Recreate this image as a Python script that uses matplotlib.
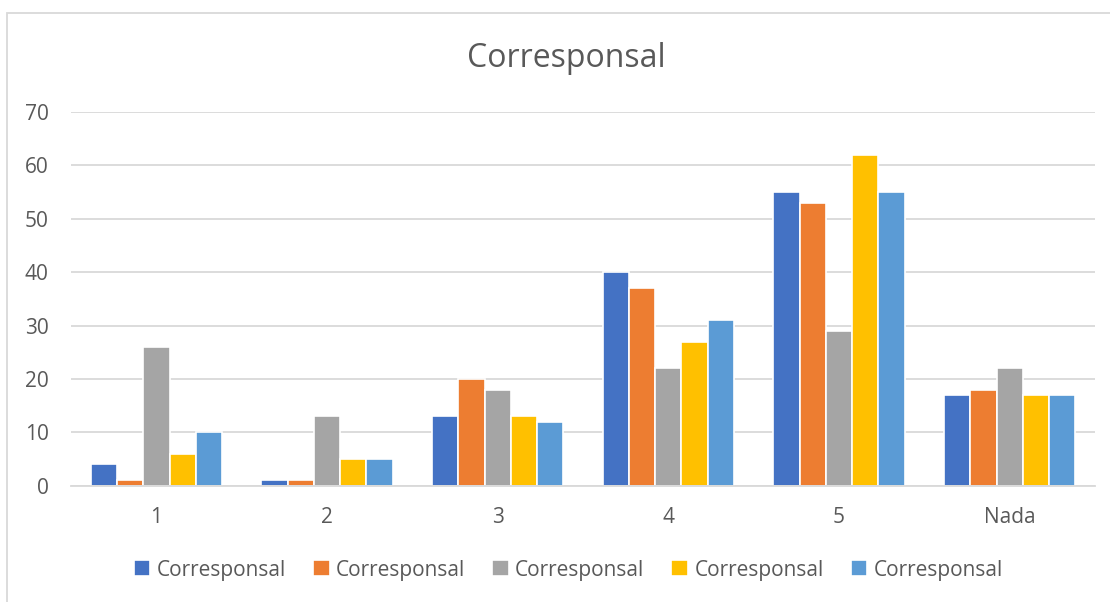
import matplotlib.pyplot as plt
import matplotlib.patches as patches
import numpy as np

categories = ["1", "2", "3", "4", "5", "Nada"]
serie_1 = [4, 1, 13, 40, 55, 17]
serie_2 = [1, 1, 20, 37, 53, 18]
serie_3 = [26, 13, 18, 22, 29, 22]
serie_4 = [6, 5, 13, 27, 62, 17]
serie_5 = [10, 5, 12, 31, 55, 17]
series_names = ["Corresponsal"] * 5
colors = ["#4472C4", "#ED7D31", "#A5A5A5", "#FFC000", "#5B9BD5"]

plt.rcParams["font.family"] = ["Open Sans", "DejaVu Sans"]
text_color = "#595959"
grid_color = "#D9D9D9"

fig = plt.figure(figsize=(11.1, 6.02), dpi=100)
ax = fig.add_axes([0.064, 0.193, 0.9225, 0.621])

x = np.arange(len(categories))
width = 0.154
all_series = [serie_1, serie_2, serie_3, serie_4, serie_5]
for i, vals in enumerate(all_series):
    offset = (i - 2) * width
    ax.bar(x + offset, vals, width, color=colors[i], edgecolor="white",
           linewidth=1.2, label=series_names[i], zorder=3)

ax.set_xlim(-0.5, len(categories) - 0.5)
ax.set_ylim(0, 70)
ax.set_yticks(range(0, 71, 10))
ax.set_xticks(x)
ax.set_xticklabels(categories)
ax.tick_params(axis="both", length=0, labelsize=15, colors=text_color)
ax.tick_params(axis="y", pad=16)
ax.tick_params(axis="x", pad=15)
ax.yaxis.grid(True, color=grid_color, linewidth=1.3, zorder=0)
for s in ["top", "right", "left"]:
    ax.spines[s].set_visible(False)
ax.spines["bottom"].set_color(grid_color)
ax.spines["bottom"].set_linewidth(1.3)
ax.spines["bottom"].set_zorder(4)

fig.text(0.51, 0.903, "Corresponsal", ha="center", va="center",
         fontsize=23, color=text_color)

leg = fig.legend(loc="center", bbox_to_anchor=(0.512, 0.053), ncol=5,
                 frameon=False, fontsize=15, handlelength=0.8,
                 handleheight=0.8, handletextpad=0.3, columnspacing=1.3)
for t in leg.get_texts():
    t.set_color(text_color)

# chart frame
fig.patches.append(patches.Rectangle((7 / 1110, -0.1), 1.2, 1.1 - 13 / 602,
                                     transform=fig.transFigure, fill=False,
                                     edgecolor=grid_color, linewidth=1.3))

fig.savefig("out.png", dpi=100, facecolor="white")
